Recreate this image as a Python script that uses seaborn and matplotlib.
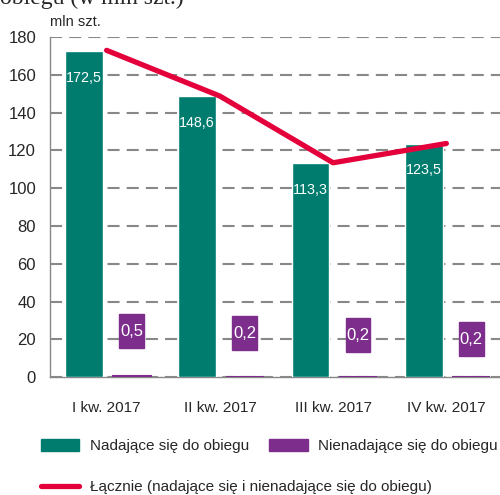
import seaborn as sns
import matplotlib.pyplot as plt
import pandas as pd
import numpy as np
from matplotlib.patches import Patch, Rectangle
from matplotlib.lines import Line2D

sns.set_style("white")
plt.rcParams['font.family'] = ['Liberation Sans', 'DejaVu Sans']

quarters = ["I kw. 2017", "II kw. 2017", "III kw. 2017", "IV kw. 2017"]
fit = [172.5, 148.6, 113.3, 123.5]
unfit = [0.5, 0.2, 0.2, 0.2]
total = [173.0, 148.8, 113.5, 123.7]

fit_labels = ["172,5", "148,6", "113,3", "123,5"]
unfit_labels = ["0,5", "0,2", "0,2", "0,2"]
# label box centres for the small purple values
unfit_label_y = [24.4, 23.3, 22.2, 20.1]

GREEN = "#007C6F"
PURPLE = "#7D2E8C"
RED = "#E4003B"

fig = plt.figure(figsize=(5.0, 4.95), dpi=100)
ax = fig.add_axes([0.1, 0.238, 0.906, 0.687])

x = np.arange(len(quarters))
w = 0.335
ax.bar(x - 0.2, fit, width=w, color=GREEN, zorder=3)
ax.bar(x + 0.22, unfit, width=w, color=PURPLE, edgecolor=PURPLE, lw=1.5, zorder=3)

df = pd.DataFrame({"x": x, "total": total})
sns.lineplot(data=df, x="x", y="total", color=RED, lw=3.8, ax=ax, zorder=4,
             solid_capstyle="round", clip_on=False)

for i in range(len(quarters)):
    ax.text(x[i] - 0.2, fit[i] - 14, fit_labels[i], color="white", ha="center",
            va="center", fontsize=10.3, zorder=5)
    ax.add_patch(Rectangle((x[i] + 0.22 - 0.11, unfit_label_y[i] - 9), 0.22, 18,
                           color=PURPLE, zorder=5))
    ax.text(x[i] + 0.22, unfit_label_y[i], unfit_labels[i], color="white", ha="center",
            va="center", fontsize=12, zorder=6)

ax.set_xlim(-0.5, 3.5)
ax.set_ylim(0, 180)
ax.set_yticks(range(0, 181, 20))
ax.set_xticks(x)
ax.set_xticklabels(quarters)
ax.set_xticks(np.arange(-0.5, 3.6, 1), minor=True)
ax.tick_params(axis="x", which="major", length=0, labelsize=11, pad=17)
ax.tick_params(axis="x", which="minor", length=6, width=1, color="#888888", direction="out")
ax.tick_params(axis="y", length=7, width=1.5, color="#888888", labelsize=12, pad=3)
ax.set_xlabel("")
ax.set_ylabel("")

ax.yaxis.grid(True, color="#888888", lw=1.5, dashes=(5.8, 3.4), zorder=0)
ax.xaxis.grid(False)
for s in ["top", "right"]:
    ax.spines[s].set_visible(False)
for s in ["left", "bottom"]:
    ax.spines[s].set_color("#888888")
    ax.spines[s].set_linewidth(1)

fig.text(0.1, 0.955, "mln szt.", fontsize=10.5, ha="left", va="center")
fig.text(0.0, 1.004, "obiegu (w mln szt.)", fontsize=17, family="Liberation Serif",
         ha="left", va="center")

handles = [Patch(color=GREEN), Patch(color=PURPLE)]
fig.legend(handles, ["Nadające się do obiegu", "Nienadające się do obiegu"],
           loc="center left", bbox_to_anchor=(0.082, 0.099), ncol=2, frameon=False,
           fontsize=11, handlelength=2.5, handleheight=0.9, columnspacing=1.3,
           handletextpad=0.72, borderpad=0, borderaxespad=0)
fig.legend([Line2D([0], [0], color=RED, lw=3.8)],
           ["Łącznie (nadające się i nienadające się do obiegu)"],
           loc="center left", bbox_to_anchor=(0.082, 0.016), frameon=False,
           fontsize=11, handlelength=2.5, handletextpad=0.72, borderpad=0,
           borderaxespad=0)

fig.savefig("out.png", dpi=100)
